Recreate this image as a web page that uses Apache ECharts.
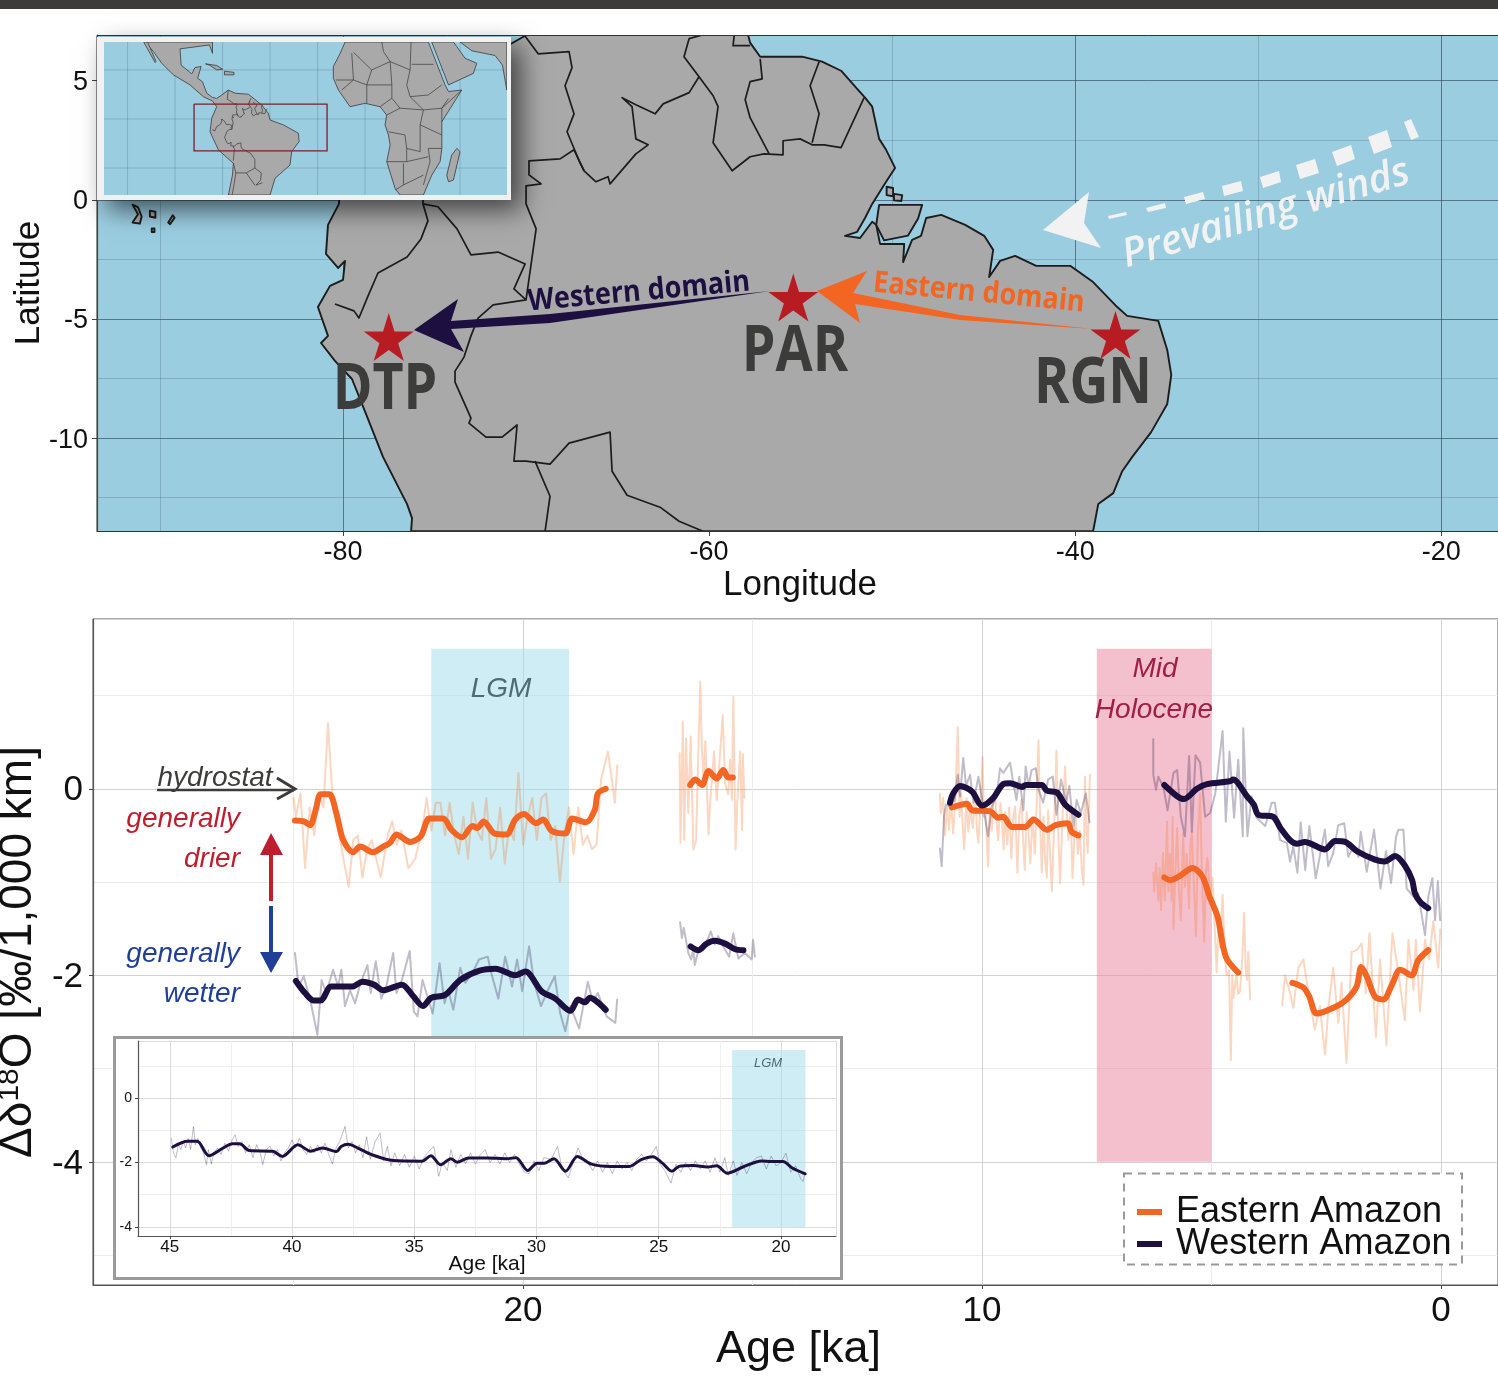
<!DOCTYPE html>
<html><head><meta charset="utf-8">
<style>html,body{margin:0;padding:0;background:#fff}#c{width:1498px;height:1376px}</style>
<script src="https://cdn.jsdelivr.net/npm/echarts@6/dist/echarts.min.js"></script>
</head><body><div id="c"></div>
<script>
/* ---------- regional map, lon/lat ---------- */
const southAmerica=[[-76.28,-13.91],[-76.23,-13.36],[-76.5,-12.77],[-77.81,-10.8],[-78.74,-8.99],[-79.51,-7.52],[-80.44,-6.76],[-81.2,-6.01],[-80.82,-5.71],[-81.37,-4.5],[-80.71,-3.61],[-80,-3.36],[-79.89,-2.56],[-80.27,-2.86],[-80.93,-2.27],[-80.82,-1.05],[-80.22,-.17],[-80.16,.63],[-78.5,3.36],[-75.8,5.04],[-71.4,6.3],[-69.95,6.93],[-57.87,6.93],[-57.76,6.6],[-57.21,6.01],[-54.92,6.01],[-53.83,5.8],[-52.79,5.42],[-51.91,4.66],[-51.48,4.29],[-51.09,3.91],[-50.71,2.56],[-50.33,2.1],[-49.84,1.34],[-50.33,.76],[-51.09,-.17],[-51.48,-.76],[-51.91,-1.34],[-52.57,-1.51],[-51.75,-1.6],[-51.09,-.92],[-50.87,-1.05],[-50.66,-1.85],[-49.34,-1.85],[-49.4,-2.61],[-48.91,-1.68],[-48.42,-1.51],[-48.14,-.76],[-47.32,-.63],[-46.01,-1.05],[-44.97,-1.51],[-44.48,-2.1],[-44.7,-3.24],[-44.1,-2.56],[-43.28,-2.35],[-42.13,-2.77],[-40.27,-2.77],[-39.02,-3.45],[-37.7,-4.5],[-37.16,-4.87],[-35.46,-5.08],[-34.97,-6.3],[-34.75,-7.35],[-34.97,-8.57],[-35.85,-9.75],[-36.89,-10.8],[-37.43,-11.39],[-37.92,-12.31],[-38.74,-12.77],[-39.02,-13.91]];
const marajo=[[-50.71,-.21],[-48.36,-.21],[-48.58,-.78],[-49.13,-1.5],[-50.44,-1.7],[-50.87,-1.05]];
const amazonIslands=[[[-50.3,.55],[-49.95,.5],[-49.95,.15],[-50.3,.2]],[[-49.9,.25],[-49.45,.2],[-49.5,-.05],[-49.9,-.02]]];
const galapagos=[[[-91.5,-.2],[-91.2,-.3],[-91.0,-.7],[-91.1,-1.0],[-91.5,-.95],[-91.2,-.6]],[[-90.55,-.45],[-90.25,-.5],[-90.25,-.75],[-90.55,-.7]],[[-89.55,-.95],[-89.3,-.65],[-89.2,-.75],[-89.45,-1.02]],[[-90.45,-1.2],[-90.3,-1.2],[-90.3,-1.35],[-90.45,-1.35]]];
const borderEcuadorPeru=[[-80.44,-4.37],[-79.4,-4.66],[-79.13,-4.96],[-78.63,-4.03],[-78.09,-3.07],[-76.5,-2.4],[-75.74,-1.64],[-75.36,-.88],[-75.63,-.17],[-75.63,0]];
const borderPeruBrazil=[[-75.63,-.17],[-74.81,-.29],[-73.77,-1.22],[-73.01,-2.31],[-71.53,-2.19],[-70.05,-2.69],[-70.66,-3.74],[-70,-4.2],[-71.8,-4.41],[-72.62,-4.96],[-73.01,-5.71],[-73.39,-6.6],[-73.88,-7.19],[-73.88,-7.65],[-73.01,-9.16],[-73.12,-9.37],[-72.19,-9.96],[-71.31,-9.96],[-70.49,-9.45],[-70.66,-10.97],[-70,-10.97],[-68.69,-11.09],[-67.65,-10.21],[-65.41,-9.75],[-65.3,-11.39],[-64.48,-12.4],[-62.68,-12.9],[-61.64,-13.49],[-60.33,-13.91]];
const borderPeruBolivia=[[-69.51,-10.97],[-68.69,-12.44],[-68.96,-13.91]];
const borderColombiaBrazil=[[-70,-4.2],[-69.45,-1.22],[-70,-.17],[-70,.59],[-69.18,.67],[-69.84,1.05],[-69.84,1.64],[-68.14,1.72],[-67.38,2.1],[-66.83,1.22],[-66.18,.76],[-65.52,.97],[-65.41,.67],[-64,1.93],[-63.33,2.31],[-64,2.56],[-64.21,3.91],[-64.75,4.29],[-64,3.99],[-62.95,3.61],[-62.51,4.03],[-61.09,4.5],[-60.55,5.17],[-61.37,6.01],[-61.09,6.77],[-60.33,6.93]];
const borderColombiaVenezuela=[[-70.11,6.93],[-69.34,6.13],[-67.65,6.22],[-67.49,5.55],[-67.87,4.79],[-67.38,3.61],[-67.76,2.86],[-67.1,1.64],[-66.83,1.22]];
const borderGuianasBrazil=[[-60.55,5.17],[-59.78,4.37],[-59.51,3.91],[-59.78,2.4],[-58.74,1.22],[-57.76,1.81],[-57,1.93],[-55.96,1.89],[-55.96,2.48],[-55.03,2.56],[-54.37,2.31],[-53.72,2.31],[-52.79,2.19],[-51.53,4.29]];
const borderGuyanaSuriname=[[-57.21,5.92],[-57.1,5.08],[-57.76,4.96],[-58.03,4.2],[-57.76,3.45],[-56.72,1.93]];
const borderSurinameGuiana=[[-53.99,5.8],[-54.48,4.79],[-53.99,3.61],[-54.37,2.4]];
const borderEssequibo=[[-58.63,6.89],[-58.69,6.47],[-57.76,6.47]];
const sites=[[-77.5,-5.76,'DTP'],[-55.4,-4.1,'PAR'],[-37.8,-5.67,'RGN']];

/* ---------- world locator, lon/lat ---------- */
const locAmericas=[[-115.8,31.4],[-80.3,31.4],[-80.3,26.8],[-81.9,30.2],[-97.4,28.6],[-96.8,22],[-91.2,18.4],[-89.5,21],[-86.3,21.4],[-88.1,16.6],[-85.6,15.2],[-83.3,10.5],[-80.3,8.8],[-78.1,8.4],[-75.4,9.8],[-71.9,11.8],[-68.4,10.5],[-61.4,10.1],[-54.4,5.7],[-50.9,2.3],[-50,-.4],[-43,-2.4],[-35.1,-5.8],[-34.7,-9.2],[-38.6,-13.3],[-39.5,-18.8],[-47.4,-24.2],[-50,-31],[-71.9,-31],[-69.8,-22.9],[-69.3,-18.1],[-77.2,-12.6],[-81.6,-5.2],[-80.7,.3],[-78.1,5],[-80.3,7.35],[-85.1,9.1],[-92.1,13.9],[-100.9,18],[-107,22.7],[-111.4,27.5]];
const locBaja=[[-116.5,31.4],[-114.5,31.4],[-110,23.5],[-110.5,23]];
const locCuba=[[-84,22.5],[-78,21.8],[-75,20.3],[-78,20],[-82,22]];
const locHispaniola=[[-74,19.5],[-69,19],[-69,18],[-74,18]];
const locAfrica=[[-10.5,31.4],[33.3,31.4],[42.1,13.9],[43.9,11.2],[50.9,11.8],[40.4,-1.1],[40.4,-12],[39.5,-17.4],[35.1,-22.9],[30.7,-31],[18.4,-31],[15.8,-28.3],[11.4,-17.4],[13.2,-10.6],[12.3,-6.5],[10.5,-2.4],[11.4,1.6],[7.9,5],[0,6.4],[-7.9,5],[-14,11.8],[-16.7,16.6],[-16.7,21.4],[-13.1,26.8]];
const locArabia=[[35.1,31.4],[43.9,13.9],[57,18.6],[58.8,22.7],[52.6,24.8],[48.3,29.5],[46.5,31.4]];
const locAsia=[[50,31.4],[56.2,27.8],[68.4,25.9],[72.3,22],[74.6,11.8],[74.6,31.4]];
const locMadagascar=[[48.3,-12],[50,-13.3],[46.5,-24.9],[43.9,-25.6],[43,-22.9],[45.6,-14.7]];
const locLinesAmerica=[[[-60.33,-13.91],[-58,-16.5],[-58,-20],[-54.6,-22],[-55,-25],[-57.5,-27],[-54,-26]],[[-69.3,-18],[-68,-22],[-69,-27],[-70,-31]],[[-68.96,-13.91],[-69.3,-17]],[[-68,-22],[-62.5,-22],[-58,-20]],[[-62.5,-22],[-58,-27]],[[-70.11,6.93],[-72.5,8],[-72,11.8]],[[-61.09,6.77],[-60,8.5]]];
const locLinesAfrica=[[[-7,26.8],[-6.1,15.9],[-15.4,15.9]],[[-6.1,27.2],[3.5,20],[13.2,23.4],[23.7,20],[24.2,31.4]],[[8.8,31.4],[9.7,27.5],[13.2,23.4]],[[24.6,22.3],[36,22.3]],[[23.7,20],[21.9,13.9],[23.7,9.1],[33.3,9.8],[40.4,13.9]],[[13.2,23.4],[14.1,13.9],[14.1,8.5],[7.9,5]],[[3.5,20],[.9,13.9],[14.1,13.9]],[[-6.1,15.9],[-12.3,11.8]],[[-6.1,15.9],[.9,13.9],[.9,6.4]],[[23.7,9.1],[30.7,3.7],[40.4,4.4],[50.9,11.8]],[[40.4,4.4],[43.9,8.4]],[[40.4,4.4],[40.4,-1.1]],[[30.7,3.7],[29,-2.4],[40.4,-6.5]],[[11.4,1.6],[18.4,4.4],[30.7,3.7]],[[12.3,-5.2],[21,-6.5],[21.9,-12],[29,-13.3],[29,-2.4]],[[11.4,-17.4],[21.9,-17.4],[21.9,-12]],[[21.9,-17.4],[33.3,-15.4]],[[40.4,-12],[33.3,-12],[34.2,-17.4],[30.7,-26.9]],[[20.2,-18.1],[20.2,-26.9],[15.8,-29]],[[20.2,-26.9],[30.7,-22.9]],[[18.4,4.4],[14.1,8.5]]];
const locGridLon=[-125,-100,-75,-50,-25,0,25,50];
const locGridLat=[-20,0,20];
const locBox=[-90,-20,6.1,-13];

/* ---------- isotope gradients: [age ka, per mil/1000 km] ---------- */
const eastRawA=[[25,-.1],[24.95,-.3],[24.85,-.05],[24.75,-.85],[24.65,-.2],[24.55,-.5],[24.45,-.05],[24.35,-.2],[24.25,.7],[24.15,-.1],[24.05,-.35],[23.95,-.65],[23.8,-1.05],[23.7,-.55],[23.6,-.5],[23.5,-.95],[23.4,-.65],[23.3,-.55],[23.2,-.75],[23.1,-.95],[22.95,-.5],[22.85,-.35],[22.75,-.6],[22.65,-.45],[22.5,-.85],[22.35,-.75],[22.2,-.45],[22.1,-.1],[22,-.45],[21.9,-.15],[21.8,-.15],[21.7,-.5],[21.6,-.15],[21.5,-.5],[21.4,-.7],[21.3,-.3],[21.2,-.75],[21.1,-.15],[21,-.45],[20.9,-.55],[20.8,-.1],[20.7,-.75],[20.6,-.65],[20.5,-.2],[20.4,-.8],[20.3,-.4],[20.2,-.55],[20.1,.17],[20,-.6],[19.9,-.3],[19.8,-.1],[19.7,-.55],[19.6,-.1],[19.5,-.05],[19.4,-.55],[19.3,-.4],[19.2,-1],[19.1,-.5],[19,-.2],[18.9,-.7],[18.8,-.2],[18.7,-.6],[18.6,-.5],[18.5,-.65],[18.4,-.6],[18.3,.1],[18.15,.4],[18,-.15],[17.95,.25]];
const eastSmoothA=[[24.97,-.34],[24.78,-.35],[24.64,-.39],[24.52,-.23],[24.41,-.06],[24.22,-.06],[24.07,-.26],[23.92,-.55],[23.7,-.68],[23.55,-.62],[23.27,-.68],[23.05,-.62],[22.9,-.58],[22.76,-.49],[22.46,-.57],[22.23,-.51],[22.04,-.32],[21.74,-.32],[21.56,-.44],[21.33,-.52],[21.1,-.4],[21,-.42],[20.86,-.35],[20.62,-.48],[20.36,-.49],[20.17,-.33],[19.98,-.27],[19.72,-.37],[19.56,-.33],[19.38,-.45],[19.08,-.48],[18.93,-.32],[18.63,-.36],[18.44,-.23],[18.37,-.05],[18.2,0]];
const westRawA=[[24.97,-1.76],[24.89,-2.12],[24.78,-2.01],[24.63,-2.28],[24.48,-2.64],[24.39,-2.05],[24.29,-2.19],[24.14,-1.94],[24.03,-2.12],[23.96,-1.94],[23.88,-2.33],[23.77,-2.16],[23.66,-2.3],[23.54,-2.08],[23.39,-1.89],[23.32,-2.19],[23.21,-1.85],[23.09,-2.25],[22.98,-2.12],[22.83,-1.76],[22.76,-2.19],[22.64,-2.05],[22.47,-1.74],[22.38,-2.39],[22.3,-2.44],[22.19,-2.05],[22.04,-2.3],[21.97,-2.41],[21.82,-1.87],[21.71,-2.3],[21.63,-2.16],[21.52,-2.37],[21.37,-1.92],[21.26,-2.08],[21.11,-1.98],[20.96,-1.83],[20.77,-1.8],[20.69,-1.98],[20.54,-2.25],[20.39,-1.8],[20.24,-2.12],[20.13,-1.83],[20.02,-2.17],[19.87,-1.69],[19.76,-2.08],[19.61,-2.33],[19.49,-2.19],[19.31,-2.01],[19.19,-2.41],[19.08,-2.6],[18.97,-2.33],[18.78,-2.57],[18.59,-2.07],[18.48,-2.28],[18.37,-2.19],[18.18,-2.44],[17.99,-2.51],[17.95,-2.26]];
const westSmoothA=[[24.95,-2.06],[24.75,-2.19],[24.56,-2.27],[24.41,-2.27],[24.18,-2.12],[23.73,-2.12],[23.5,-2.07],[23.25,-2.1],[23.05,-2.16],[22.64,-2.1],[22.4,-2.22],[22.18,-2.33],[22,-2.24],[21.7,-2.21],[21.37,-2.05],[20.95,-1.95],[20.6,-1.93],[20.17,-2],[19.95,-1.96],[19.6,-2.17],[19.3,-2.25],[18.97,-2.38],[18.8,-2.26],[18.65,-2.29],[18.55,-2.24],[18.2,-2.37]];
const eastRawB=[[16.59,.38],[16.57,-.58],[16.52,.72],[16.49,-.55],[16.45,.54],[16.4,-.26],[16.35,.56],[16.29,-.65],[16.23,-.55],[16.2,.06],[16.14,1.15],[16.11,.52],[16.07,.06],[16.03,.51],[15.96,-.49],[15.93,-.19],[15.84,.4],[15.78,-.12],[15.72,.29],[15.65,.79],[15.6,.06],[15.53,-.06],[15.49,.31],[15.45,-.12],[15.42,.99],[15.37,-.65],[15.33,-.12],[15.27,.4],[15.23,-.44],[15.21,.37],[15.18,-.1]];
const eastSmoothB=[[16.36,.04],[16.25,.1],[16.1,.04],[15.96,.19],[15.78,.11],[15.64,.2],[15.53,.12],[15.43,.12]];
const westRawB=[[16.58,-1.43],[16.54,-1.6],[16.5,-1.49],[16.4,-1.76],[16.34,-1.83],[16.29,-1.72],[16.26,-1.89],[16.18,-1.73],[16.04,-1.69],[15.91,-1.53],[15.82,-1.67],[15.75,-1.58],[15.64,-1.69],[15.51,-1.8],[15.42,-1.55],[15.31,-1.82],[15.17,-1.76],[15.02,-1.83],[14.99,-1.62],[14.95,-1.8]];
const westSmoothB=[[16.35,-1.69],[16.18,-1.73],[16,-1.66],[15.82,-1.63],[15.6,-1.66],[15.38,-1.72],[15.2,-1.73]];
const eastRawC=[[10.92,-.05],[10.9,-.26],[10.85,-.1],[10.81,-.5],[10.76,-.2],[10.72,-.44],[10.68,-.12],[10.63,-.48],[10.58,-.1],[10.53,.66],[10.49,-.3],[10.46,-.05],[10.42,-.4],[10.39,-.65],[10.34,-.1],[10.3,-.46],[10.26,-.2],[10.2,-.42],[10.15,-.03],[10.11,-.45],[10.08,-.58],[10.03,-.1],[9.99,.34],[9.96,-.3],[9.93,-.15],[9.9,-.5],[9.87,-.83],[9.83,-.2],[9.79,-.45],[9.75,-.1],[9.72,-.01],[9.68,-.4],[9.65,-.55],[9.6,-.15],[9.57,-.3],[9.53,-.65],[9.5,-.25],[9.45,-.6],[9.41,-.2],[9.36,-.75],[9.32,-.3],[9.28,-.19],[9.23,-.9],[9.19,-.3],[9.14,-.12],[9.1,-.6],[9.07,-.87],[9.03,-.25],[8.99,-.45],[8.95,-.8],[8.9,-.3],[8.85,-.7],[8.81,-.15],[8.77,.52],[8.73,-.45],[8.7,-.9],[8.66,-.3],[8.63,-.73],[8.59,-.95],[8.56,-.23],[8.52,-.7],[8.48,-1.1],[8.43,-.4],[8.38,.41],[8.34,-.5],[8.3,-1.01],[8.24,-.2],[8.19,.24],[8.15,-.3],[8.12,-.55],[8.07,-.25],[8.03,-.96],[7.99,-.5],[7.96,-.3],[7.91,-.7],[7.87,-.45],[7.83,-.85],[7.79,-1.03],[7.76,.13],[7.73,-.4],[7.7,-.69],[7.67,-.2],[7.65,.15]];
const eastSmoothC=[[10.66,-.2],[10.33,-.16],[10.22,-.23],[9.83,-.24],[9.65,-.31],[9.54,-.3],[9.35,-.41],[9.06,-.41],[8.88,-.33],[8.59,-.44],[8.4,-.39],[8.13,-.37],[8.05,-.46],[7.9,-.5]];
const westRawC=[[10.92,-.64],[10.88,-.83],[10.83,-.3],[10.79,-.17],[10.7,-.19],[10.6,-.12],[10.53,.15],[10.48,-.08],[10.41,.33],[10.35,.03],[10.26,.15],[10.19,-.15],[10.08,.13],[9.99,-.15],[9.87,-.51],[9.79,-.19],[9.68,-.08],[9.61,.22],[9.54,.17],[9.47,.22],[9.39,.28],[9.32,.06],[9.25,-.12],[9.19,.13],[9.1,-.23],[9.05,.24],[8.99,.03],[8.92,.2],[8.83,.22],[8.77,-.01],[8.67,-.15],[8.56,.1],[8.46,.13],[8.38,-.28],[8.28,.1],[8.17,-.15],[8.1,.03],[8.01,-.4],[7.94,-.12],[7.85,-.26],[7.74,-.05],[7.66,-.36]];
const westSmoothC=[[10.7,-.15],[10.63,-.05],[10.48,.03],[10.22,-.03],[10,-.18],[9.76,-.1],[9.54,.05],[9.39,.06],[9.13,.02],[9.05,.04],[8.7,.04],[8.59,-.02],[8.37,-.04],[8.19,-.17],[7.9,-.28]];
const westRawD=[[6.27,.53],[6.27,.15],[6.21,-.01],[6.16,.13],[6.05,.02],[5.96,-.23],[5.83,.17],[5.75,.2],[5.67,-.3],[5.58,-.51],[5.49,.35],[5.43,-.46],[5.35,.36],[5.25,.28],[5.14,-.3],[5.03,-.26],[4.92,-.05],[4.85,.24],[4.76,.62],[4.69,-.35],[4.61,.4],[4.51,-.31],[4.42,.31],[4.32,-.51],[4.31,.65],[4.22,-.51],[4.13,-.08],[4.02,-.31],[3.83,-.4],[3.69,-.15],[3.62,-.15],[3.51,-.55],[3.36,-.58],[3.29,-.78],[3.22,-.62],[3.13,-.9],[3.06,-.36],[2.96,-.87],[2.87,-.4],[2.73,-.96],[2.62,-.66],[2.53,-.44],[2.46,-.83],[2.35,-.69],[2.24,-.39],[2.11,-.37],[2.02,-.73],[1.91,-.62],[1.8,-.73],[1.75,-.46],[1.62,-.89],[1.46,-.44],[1.32,-1.07],[1.2,-.67],[1.09,-1.01],[.98,-.51],[.93,-.44],[.82,-.44],[.75,-1.07],[.6,-1.16],[.5,-1.12],[.35,-1.57],[.28,-1.16],[.19,-.96],[.13,-1.41],[.07,-.99],[.02,-1.41]];
const westSmoothD=[[6.03,.04],[5.75,-.08],[5.6,-.11],[5.32,0],[5.1,.05],[4.6,.08],[4.53,.1],[4.23,-.08],[4.08,-.17],[3.98,-.28],[3.66,-.3],[3.5,-.42],[3.29,-.55],[3.14,-.59],[2.97,-.57],[2.53,-.65],[2.31,-.56],[2.09,-.57],[1.83,-.67],[1.44,-.76],[1.23,-.78],[1,-.72],[.78,-.83],[.63,-.98],[.57,-1.12],[.46,-1.21],[.28,-1.28]];
const eastRawD=[[6.27,-.9],[6.25,-1.1],[6.21,-.8],[6.16,-1.2],[6.13,-.85],[6.1,-1.3],[6.06,-.69],[6.02,-1.2],[5.97,-.35],[5.94,-1.1],[5.91,-.7],[5.87,-1.2],[5.85,-.3],[5.83,-1.51],[5.79,-.9],[5.75,-.42],[5.71,-1.1],[5.67,-1.41],[5.62,-.48],[5.58,-1.05],[5.54,-.7],[5.49,-1.28],[5.46,-.6],[5.43,-.46],[5.39,-1],[5.34,-1.58],[5.3,-.5],[5.25,-.05],[5.21,-.9],[5.16,-1.64],[5.12,-.85],[5.09,-.74],[5.03,-1.2],[4.98,-.95],[4.93,-1.5],[4.89,-1.97],[4.85,-1.45],[4.81,-1.7],[4.76,-1.14],[4.71,-1.8],[4.67,-2],[4.62,-1.95],[4.58,-2.91],[4.55,-2],[4.52,-2.24],[4.46,-2],[4.42,-2.2],[4.38,-2.17],[4.33,-1.8],[4.29,-1.33],[4.26,-1.9],[4.23,-2.05],[4.2,-1.75],[4.16,-2.26]];
const eastSmoothD=[[6.03,-.95],[5.9,-.98],[5.68,-.93],[5.57,-.89],[5.42,-.85],[5.2,-.94],[5.05,-1.15],[4.87,-1.37],[4.69,-1.8],[4.42,-1.97]];
const eastRawE=[[3.46,-2.32],[3.4,-2],[3.29,-2.19],[3.22,-2.35],[3.11,-1.92],[3,-1.83],[2.89,-2.19],[2.75,-2.58],[2.64,-2.33],[2.53,-2.85],[2.45,-2.32],[2.35,-1.92],[2.24,-2.51],[2.17,-2.08],[2.06,-2.94],[1.95,-1.75],[1.84,-1.73],[1.73,-1.66],[1.64,-2.19],[1.56,-1.55],[1.42,-2.66],[1.33,-1.83],[1.19,-2.75],[1.06,-1.55],[.93,-1.98],[.79,-2.48],[.71,-1.62],[.6,-2.16],[.55,-1.62],[.46,-2.39],[.35,-1.62],[.26,-1.83],[.17,-1.42],[.06,-1.92],[.02,-1.51]];
const eastSmoothE=[[3.24,-2.08],[3,-2.13],[2.87,-2.23],[2.71,-2.41],[2.31,-2.34],[2.06,-2.26],[1.84,-2.12],[1.74,-1.91],[1.62,-2.01],[1.44,-2.23],[1.26,-2.26],[1.07,-2.1],[.89,-1.94],[.64,-2],[.5,-1.84],[.28,-1.73]];
const longRaw=[[44.94,-1.24],[44.85,-1.7],[44.75,-1.85],[44.65,-1.45],[44.55,-1.6],[44.45,-1.35],[44.35,-1.55],[44.25,-1.25],[44.15,-1.6],[44.03,-.88],[43.95,-1.45],[43.85,-1.25],[43.75,-1.5],[43.6,-1.75],[43.5,-2.07],[43.42,-1.6],[43.3,-2.05],[43.2,-1.7],[43.05,-1.55],[42.9,-1.75],[42.75,-1.4],[42.6,-1.65],[42.45,-1.3],[42.33,-1.14],[42.2,-1.5],[42.05,-1.35],[41.9,-1.7],[41.75,-1.45],[41.6,-1.85],[41.45,-1.45],[41.3,-1.7],[41.2,-2.07],[41.05,-1.6],[40.9,-1.5],[40.75,-1.8],[40.6,-1.6],[40.45,-1.95],[40.3,-1.7],[40.15,-1.55],[40,-1.3],[39.85,-1.55],[39.7,-1.25],[39.55,-1.6],[39.4,-1.75],[39.25,-1.5],[39.1,-1.7],[38.95,-1.45],[38.8,-1.7],[38.65,-1.4],[38.5,-1.75],[38.35,-2.05],[38.2,-1.55],[38.05,-1.35],[37.83,-.88],[37.7,-1.55],[37.55,-1.35],[37.4,-1.7],[37.25,-1.45],[37.1,-1.85],[36.95,-1.2],[36.8,-1.9],[36.6,-1.35],[36.4,-1.09],[36.25,-1.95],[36.1,-1.5],[35.95,-2.1],[35.8,-1.7],[35.6,-2.1],[35.4,-1.75],[35.2,-2.15],[35,-1.8],[34.8,-2.2],[34.6,-1.85],[34.4,-1.65],[34.2,-1.5],[34,-2.43],[33.85,-2],[33.65,-2.25],[33.5,-1.6],[33.3,-2.15],[33.1,-1.75],[32.9,-2.05],[32.7,-1.7],[32.5,-2.05],[32.3,-1.75],[32.1,-1.6],[31.9,-2],[31.7,-1.75],[31.5,-2.05],[31.3,-1.7],[31.1,-2],[30.9,-1.75],[30.7,-2.05],[30.5,-2.3],[30.3,-2.35],[30.1,-1.95],[29.9,-2.25],[29.7,-1.85],[29.4,-1.9],[29.14,-1.5],[28.95,-2.2],[28.7,-2.48],[28.5,-2],[28.3,-1.55],[28.1,-1.9],[27.9,-2],[27.7,-2.25],[27.5,-1.95],[27.3,-2.3],[27.1,-2],[26.9,-2.35],[26.7,-1.95],[26.5,-2.2],[26.3,-2],[26.1,-2.25],[25.9,-1.9],[25.7,-1.75],[25.5,-1.95],[25.3,-1.75],[25.1,-1.5],[24.95,-2.05],[24.75,-2.25],[24.5,-2.64],[24.3,-2.05],[24.1,-2.3],[23.9,-2],[23.7,-2.25],[23.5,-1.95],[23.3,-2.2],[23.1,-1.95],[22.9,-2.3],[22.7,-1.85],[22.5,-2.3],[22.3,-1.85],[22.15,-2.4],[21.95,-1.95],[21.8,-2.4],[21.6,-2],[21.4,-2.35],[21.2,-2],[21,-1.85],[20.8,-1.8],[20.6,-2.2],[20.4,-1.8],[20.2,-2.1],[20,-2],[19.8,-1.71],[19.6,-2.3],[19.4,-2.1],[19.2,-2.5],[19.1,-2.59],[19,-2.3]];
const longSmooth=[[44.88,-1.52],[44.27,-1.34],[43.88,-1.34],[43.4,-1.79],[42.82,-1.55],[42.43,-1.42],[42.14,-1.42],[41.75,-1.63],[40.79,-1.65],[40.4,-1.81],[39.76,-1.45],[39.24,-1.65],[38.76,-1.55],[38.18,-1.66],[37.99,-1.5],[37.7,-1.43],[37.31,-1.55],[36.73,-1.76],[35.86,-1.94],[34.7,-1.96],[34.32,-1.79],[33.93,-2.07],[33.5,-1.88],[33.25,-1.99],[32.77,-1.86],[32,-1.86],[31.22,-1.88],[30.84,-1.85],[30.36,-2.25],[29.97,-2.02],[29.68,-2.02],[29.29,-1.88],[28.81,-2.27],[28.33,-1.81],[27.75,-2.05],[26.97,-2.12],[26.2,-2.12],[25.72,-1.91],[25.24,-1.82],[24.85,-2.02],[24.46,-2.27],[24.17,-2.12],[23.59,-2.09],[23.01,-2.14],[22.63,-2.1],[22.2,-2.33],[21.56,-2.14],[20.79,-1.95],[20.41,-1.97],[19.92,-1.97],[19.54,-2.17],[19.01,-2.35]];
const lgmBand=[22,19,1.5,-4];
const midHoloceneBand=[7.5,5,1.5,-4];
const longLgmBand=[22,19,1.49,-4];

/* ---------- colours ---------- */
const ORANGE='#f36523',NAVY='#1d0f3f',LAND='#a9a9a9',SEA='#9bcde1',FONT='"Liberation Sans",Arial,sans-serif',DISPLAY='"Open Sans",sans-serif';
const rawE='rgba(243,120,50,.3)',rawW='rgba(29,15,63,.28)';

function shapes(name,gi,polys,closed,style,z,clip){
  return {type:'custom',name,xAxisIndex:gi,yAxisIndex:gi,z,clip:clip!==false,silent:true,
    data:polys.map((p,i)=>[i]),
    renderItem(params,api){
      const pts=polys[params.dataIndex].map(p=>api.coord(p));
      return {type:closed?'polygon':'polyline',shape:{points:pts},style:closed?style:Object.assign({fill:null},style)};
    }};
}
function band(name,gi,b,fill,z){
  return {type:'custom',name,xAxisIndex:gi,yAxisIndex:gi,z,silent:true,clip:true,data:[[b[0],b[2]]],
    renderItem(params,api){
      const a=api.coord([b[0],b[2]]),c=api.coord([b[1],b[3]]);
      return {type:'rect',shape:{x:a[0],y:a[1],width:c[0]-a[0],height:c[1]-a[1]},style:{fill}};
    }};
}
function line(name,gi,data,color,width,z,smooth){
  return {type:'line',name,xAxisIndex:gi,yAxisIndex:gi,data,z,showSymbol:false,symbol:'none',silent:true,smooth:smooth||false,
    lineStyle:{color,width,join:'round',cap:'round'},itemStyle:{color},clip:true};
}
const coastStyle={fill:LAND,stroke:'#1c1c1c',lineWidth:1.9,lineJoin:'round'};
const borderStyle={stroke:'#1c1c1c',lineWidth:1.7,lineJoin:'round'};
const locCoast={fill:LAND,stroke:'#3a3a3a',lineWidth:.8};
const locBorder={stroke:'#3a3a3a',lineWidth:.7};
const regionalBorders=[borderEcuadorPeru,borderPeruBrazil,borderPeruBolivia,borderColombiaBrazil,borderColombiaVenezuela,borderGuianasBrazil,borderGuyanaSuriname,borderSurinameGuiana,borderEssequibo];
const locGridLines=locGridLon.map(x=>[[x,-31],[x,31.4]]).concat(locGridLat.map(y=>[[-137.4,y],[74.7,y]]));
const locBoxLine=[[[locBox[0],locBox[2]],[locBox[1],locBox[2]],[locBox[1],locBox[3]],[locBox[0],locBox[3]],[locBox[0],locBox[2]]]];

function axisBase(fs,major,minor,tick,margin,nudge){
  const label={fontFamily:FONT,fontSize:fs,color:'#111',showMinLabel:false,showMaxLabel:false,hideOverlap:false,margin};
  if(nudge){label.formatter='{t|{value}}';label.rich={t:{fontFamily:FONT,fontSize:fs,color:'#111',padding:[nudge,0,0,0]}};}
  return {type:'value',nameMoveOverlap:false,axisLine:{show:true,onZero:false,lineStyle:{color:'#555',width:1.2}},
    axisTick:{show:true,length:tick,lineStyle:{color:'#444'}},
    axisLabel:label,
    splitLine:{show:true,lineStyle:{color:major,width:1}},
    minorTick:{show:false,splitNumber:2},
    minorSplitLine:{show:true,lineStyle:{color:minor,width:1}}};
}
const mapX=Object.assign(axisBase(27,'rgba(45,65,80,.62)','rgba(45,65,80,.22)',5,8),{gridIndex:0,min:-93.44,max:-16.9,splitNumber:4,name:'Longitude',nameLocation:'middle',nameGap:37,nameTextStyle:{fontFamily:FONT,fontSize:35,color:'#111',padding:[0,0,0,5]}});
const mapY=Object.assign(axisBase(27,'rgba(45,65,80,.62)','rgba(45,65,80,.22)',5,9,4),{gridIndex:0,min:-13.9,max:6.92,splitNumber:4,name:'Latitude',nameLocation:'middle',nameGap:50,nameTextStyle:{fontFamily:FONT,fontSize:35,color:'#111'}});
const locX={type:'value',gridIndex:1,min:-137.4,max:74.7,show:false,splitLine:{show:false}};
const locY={type:'value',gridIndex:1,min:-31,max:31.4,show:false,splitLine:{show:false}};
const mainX=Object.assign(axisBase(35,'#d2d2d2','#ececec',4,9),{gridIndex:2,inverse:true,min:-1.24,max:29.37,splitNumber:3,name:'Age [ka]',nameLocation:'middle',nameGap:42,nameTextStyle:{fontFamily:FONT,fontSize:45,color:'#111',padding:[0,0,0,6]}});
const mainY=Object.assign(axisBase(35,'#d2d2d2','#ececec',4,10,4),{gridIndex:2,min:-5.32,max:1.82,splitNumber:4,name:'Δδ{sup|18}O [‰/1,000 km]',nameLocation:'middle',nameGap:52,nameTextStyle:{fontFamily:FONT,fontSize:46,color:'#111',rich:{sup:{fontFamily:FONT,fontSize:30,verticalAlign:'top',color:'#111'}}}});
const longX=Object.assign(axisBase(17,'#dcdcdc','#efefef',3,3),{gridIndex:3,inverse:true,min:17.75,max:46.3,splitNumber:6,z:21,name:'Age [ka]',nameLocation:'middle',nameGap:18,nameTextStyle:{fontFamily:FONT,fontSize:21,color:'#111'}});
const longY=Object.assign(axisBase(14,'#dcdcdc','#efefef',3,6),{gridIndex:3,min:-4.28,max:1.77,splitNumber:3,z:21});

const graphicEls=[
 {type:'rect',shape:{x:0,y:0,width:1498,height:9},style:{fill:'#3c3b39'},z:30},
 {type:'rect',shape:{x:97,y:35.5,width:1420,height:496},style:{fill:null,stroke:'#333',lineWidth:1},z:5},
 {type:'rect',shape:{x:97,y:37,width:414,height:163},style:{fill:'#f1f1f1',shadowBlur:24,shadowOffsetX:10,shadowOffsetY:10,shadowColor:'rgba(0,0,0,.6)'},z:9},
 {type:'rect',shape:{x:104,y:42,width:403,height:153},style:{fill:SEA},z:10},
 {type:'polygon',shape:{points:[[414,330],[458,299],[451,321],[550,314],[770,291],[550,323],[451,329],[464,352]]},style:{fill:NAVY},z:6},
 {type:'polygon',shape:{points:[[817,291],[867,271],[853,293],[960,315],[1093,329],[960,320],[855,304],[860,323]]},style:{fill:ORANGE},z:6},
 {type:'text',x:639,y:292,rotation:.09,scaleX:.9,style:{text:'Western domain',fontFamily:DISPLAY,fontWeight:700,fontSize:30,fill:NAVY,textAlign:'center',textVerticalAlign:'middle'},z:7},
 {type:'text',x:979,y:293,rotation:-.095,scaleX:.9,style:{text:'Eastern domain',fontFamily:DISPLAY,fontWeight:700,fontSize:30,fill:ORANGE,textAlign:'center',textVerticalAlign:'middle'},z:7},
 {type:'polygon',shape:{points:[[1043,230],[1089,192],[1084,223],[1101,248]]},style:{fill:'#f2f2f2'},z:6},
 {type:'polygon',shape:{points:[[1108,216],[1126,212],[1127,215],[1109,219]]},style:{fill:'#f2f2f2'},z:6},
 {type:'polygon',shape:{points:[[1146,208],[1165,203],[1166,208],[1148,212]]},style:{fill:'#f2f2f2'},z:6},
 {type:'polygon',shape:{points:[[1184,197],[1203,192],[1205,199],[1186,204]]},style:{fill:'#f2f2f2'},z:6},
 {type:'polygon',shape:{points:[[1222,186],[1241,181],[1243,191],[1224,196]]},style:{fill:'#f2f2f2'},z:6},
 {type:'polygon',shape:{points:[[1260,177],[1279,171],[1281,182],[1263,188]]},style:{fill:'#f2f2f2'},z:6},
 {type:'polygon',shape:{points:[[1296,165],[1315,159],[1319,173],[1300,179]]},style:{fill:'#f2f2f2'},z:6},
 {type:'polygon',shape:{points:[[1332,152],[1351,145],[1355,159],[1337,166]]},style:{fill:'#f2f2f2'},z:6},
 {type:'polygon',shape:{points:[[1368,137],[1387,130],[1392,147],[1374,154]]},style:{fill:'#f2f2f2'},z:6},
 {type:'polygon',shape:{points:[[1404,122],[1411,119],[1419,137],[1411,140]]},style:{fill:'#f2f2f2'},z:6},
 {type:'text',x:1266,y:214,rotation:.29,scaleX:1,style:{text:'Prevailing winds',fontFamily:DISPLAY,fontWeight:600,fontStyle:'italic',fontSize:40,fill:'#f2f2f2',textAlign:'center',textVerticalAlign:'middle'},z:7},
 {type:'text',x:385,y:391,scaleX:.84,style:{text:'DTP',fontFamily:DISPLAY,fontWeight:700,fontSize:64,fill:'#3c3c3b',textAlign:'center',textVerticalAlign:'middle'},z:7},
 {type:'text',x:795,y:353,scaleX:.84,style:{text:'PAR',fontFamily:DISPLAY,fontWeight:700,fontSize:64,fill:'#3c3c3b',textAlign:'center',textVerticalAlign:'middle'},z:7},
 {type:'text',x:1093,y:385,scaleX:.84,style:{text:'RGN',fontFamily:DISPLAY,fontWeight:700,fontSize:64,fill:'#3c3c3b',textAlign:'center',textVerticalAlign:'middle'},z:7},
 {type:'text',x:501,y:689,style:{text:'LGM',fontFamily:FONT,fontStyle:'italic',fontSize:28,fill:'#4d6b70',textAlign:'center',textVerticalAlign:'middle'},z:8},
 {type:'text',x:1155,y:669,style:{text:'Mid',fontFamily:FONT,fontStyle:'italic',fontSize:28,fill:'#a01f45',textAlign:'center',textVerticalAlign:'middle'},z:8},
 {type:'text',x:1154,y:710,style:{text:'Holocene',fontFamily:FONT,fontStyle:'italic',fontSize:28,fill:'#a01f45',textAlign:'center',textVerticalAlign:'middle'},z:8},
 {type:'text',x:215,y:778,style:{text:'hydrostat',fontFamily:FONT,fontStyle:'italic',fontSize:28,fill:'#3c3c3b',textAlign:'center',textVerticalAlign:'middle'},z:8},
 {type:'polyline',shape:{points:[[157,790],[294,790]]},style:{fill:null,stroke:'#3c3c3b',lineWidth:2.5},z:8},
 {type:'polyline',shape:{points:[[277,778],[295,789],[277,799]]},style:{fill:null,stroke:'#3c3c3b',lineWidth:3},z:8},
 {type:'text',x:240,y:819,style:{text:'generally',fontFamily:FONT,fontStyle:'italic',fontSize:28,fill:'#be1e2d',textAlign:'right',textVerticalAlign:'middle'},z:8},
 {type:'text',x:240,y:859,style:{text:'drier',fontFamily:FONT,fontStyle:'italic',fontSize:28,fill:'#be1e2d',textAlign:'right',textVerticalAlign:'middle'},z:8},
 {type:'text',x:240,y:954,style:{text:'generally',fontFamily:FONT,fontStyle:'italic',fontSize:28,fill:'#1f3f98',textAlign:'right',textVerticalAlign:'middle'},z:8},
 {type:'text',x:240,y:994,style:{text:'wetter',fontFamily:FONT,fontStyle:'italic',fontSize:28,fill:'#1f3f98',textAlign:'right',textVerticalAlign:'middle'},z:8},
 {type:'polygon',shape:{points:[[271,833],[283,855],[273,855],[273,901],[269,901],[269,855],[260,855]]},style:{fill:'#be1e2d'},z:8},
 {type:'polygon',shape:{points:[[271,973],[283,952],[273,952],[273,906],[269,906],[269,952],[260,952]]},style:{fill:'#1f3f98'},z:8},
 {type:'rect',shape:{x:1124,y:1173.5,width:338,height:91},style:{fill:'#fff',stroke:'#9a9a9a',lineWidth:2,lineDash:[8,6]},z:3},
 {type:'rect',shape:{x:114.5,y:1037.5,width:727,height:241},style:{fill:'#fff',stroke:'#9b9b9b',lineWidth:3},z:20},
 {type:'text',x:768,y:1063,style:{text:'LGM',fontFamily:FONT,fontStyle:'italic',fontSize:13,fill:'#4d6b70',textAlign:'center',textVerticalAlign:'middle'},z:26}
];

const option={
 animation:false,backgroundColor:'#fff',textStyle:{fontFamily:FONT},
 grid:[
  {left:97,top:35,width:1401,height:496,show:true,backgroundColor:SEA,borderWidth:0,containLabel:false,outerBoundsMode:'none'},
  {left:104,top:42,width:403,height:153,containLabel:false,outerBoundsMode:'none'},
  {left:93,top:619,width:1405,height:666,show:true,borderColor:'#555',borderWidth:1,backgroundColor:'#fff',containLabel:false,outerBoundsMode:'none'},
  {left:138,top:1041,width:698,height:195,containLabel:false,outerBoundsMode:'none'}
 ],
 xAxis:[mapX,locX,mainX,longX],
 yAxis:[mapY,locY,mainY,longY],
 legend:{show:true,data:['Eastern Amazon','Western Amazon'],orient:'vertical',left:1137,top:1194,padding:0,itemGap:-4,itemWidth:25,itemHeight:6,icon:'rect',selectedMode:false,z:6,
   textStyle:{fontFamily:FONT,fontSize:36,color:'#111',lineHeight:31,padding:[0,0,0,9]}},
 graphic:{elements:graphicEls},
 series:[
  shapes('Land',0,[southAmerica,marajo].concat(amazonIslands,galapagos),true,coastStyle,2),
  shapes('Borders',0,regionalBorders,false,borderStyle,3),
  {type:'scatter',name:'Speleothem sites',xAxisIndex:0,yAxisIndex:0,z:8,silent:true,symbol:'path://M50 0 L61 35 L98 35 L68 57 L79 91 L50 70 L21 91 L32 57 L2 35 L39 35 Z',symbolSize:[50,48],itemStyle:{color:'#b71c23',opacity:1},data:sites.map(s=>[s[0],s[1]])},
  shapes('Locator grid',1,locGridLines,false,{stroke:'rgba(60,90,110,.25)',lineWidth:1},11),
  shapes('Locator land',1,[locAmericas,locBaja,locCuba,locHispaniola,locAfrica,locArabia,locAsia,locMadagascar],true,locCoast,12),
  shapes('Locator borders',1,regionalBorders.concat(locLinesAmerica,locLinesAfrica),false,locBorder,13),
  shapes('Study area',1,locBoxLine,false,{stroke:'#7b1f24',lineWidth:1.3},14),
  band('LGM',2,lgmBand,'rgba(160,220,233,.5)',1),
  band('Mid Holocene',2,midHoloceneBand,'rgba(236,130,158,.5)',1),
  line('East raw A',2,eastRawA,rawE,2,2),line('East raw B',2,eastRawB,rawE,2,2),line('East raw C',2,eastRawC,rawE,2,2),line('East raw D',2,eastRawD,rawE,2,2),line('East raw E',2,eastRawE,rawE,2,2),
  line('West raw A',2,westRawA,rawW,2,2),line('West raw B',2,westRawB,rawW,2,2),line('West raw C',2,westRawC,rawW,2,2),line('West raw D',2,westRawD,rawW,2,2),
  line('Eastern Amazon',2,eastSmoothA,ORANGE,6,3,.3),line('Eastern Amazon',2,eastSmoothB,ORANGE,6,3,.3),line('Eastern Amazon',2,eastSmoothC,ORANGE,6,3,.3),line('Eastern Amazon',2,eastSmoothD,ORANGE,6,3,.3),line('Eastern Amazon',2,eastSmoothE,ORANGE,6,3,.3),
  line('Western Amazon',2,westSmoothA,NAVY,6,4,.3),line('Western Amazon',2,westSmoothB,NAVY,6,4,.3),line('Western Amazon',2,westSmoothC,NAVY,6,4,.3),line('Western Amazon',2,westSmoothD,NAVY,6,4,.3),
  band('LGM long',3,longLgmBand,'rgba(160,220,233,.5)',22),
  line('Long raw',3,longRaw,rawW,1,23),
  line('Long smooth',3,longSmooth,NAVY,3,24,.3)
 ]
};
const chart=echarts.init(document.getElementById('c'),null,{renderer:'canvas'});
chart.setOption(option);
</script></body></html>
